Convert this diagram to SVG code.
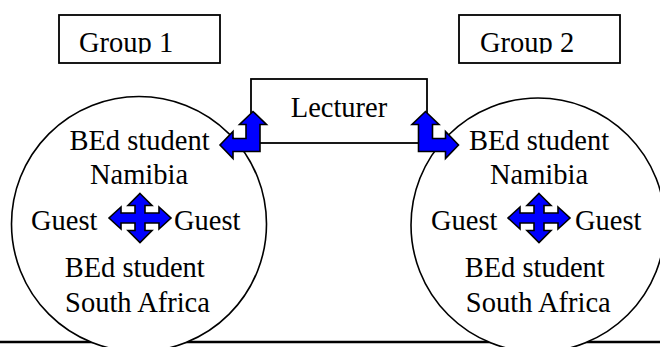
<svg xmlns="http://www.w3.org/2000/svg" width="660" height="347" viewBox="0 0 660 347">
  <style>
    .box { fill: #ffffff; stroke: #000000; stroke-width: 1.8; }
    .circ { fill: #ffffff; stroke: #000000; stroke-width: 1.6; }
    .txt { font-family: "Liberation Serif", "Times New Roman", serif; font-size: 28.5px; fill: #000000; }
    .mid { text-anchor: middle; }
    .arrow { fill: #0000ff; stroke: #000000; stroke-width: 1.6; stroke-linejoin: miter; }
    .line { stroke: #000000; stroke-width: 2.5; fill: none; }
  </style>
  <defs>
    <clipPath id="clipTop">
      <rect x="0" y="0" width="660" height="53.5"/>
    </clipPath>
    <path id="quad" d="M0,-24.5 L12,-12.5 L5,-12.5 L5,-5 L19,-5 L19,-11 L31,0 L19,11 L19,5 L5,5 L5,12.5 L12,12.5 L0,24.5 L-12,12.5 L-5,12.5 L-5,5 L-19,5 L-19,11 L-31,0 L-19,-11 L-19,-5 L-5,-5 L-5,-12.5 L-12,-12.5 Z"/>
  </defs>

  <line class="line" x1="0" y1="342" x2="660" y2="342"/>

  <g id="group1">
    <rect class="box" x="59" y="15" width="161" height="48"/>
    <text class="txt" x="79" y="52" clip-path="url(#clipTop)">Group 1</text>
  </g>

  <g id="group2">
    <rect class="box" x="459" y="15" width="161" height="48"/>
    <text class="txt" x="480" y="52" clip-path="url(#clipTop)">Group 2</text>
  </g>

  <g id="lecturer">
    <rect class="box" x="251" y="79" width="176" height="64"/>
    <text class="txt mid" x="339" y="117">Lecturer</text>
  </g>

  <g id="circle1">
    <circle class="circ" cx="139" cy="224" r="127.5"/>
    <text class="txt mid" x="139.5" y="150">BEd student</text>
    <text class="txt mid" x="139" y="183.5">Namibia</text>
    <text class="txt" x="31" y="229.5">Guest</text>
    <text class="txt" x="174" y="229.5">Guest</text>
    <text class="txt mid" x="134.7" y="277">BEd student</text>
    <text class="txt mid" x="137.5" y="312">South Africa</text>
    <use href="#quad" class="arrow" transform="translate(140,218)"/>
  </g>

  <g id="circle2">
    <circle class="circ" cx="538" cy="225" r="127"/>
    <text class="txt mid" x="539" y="150">BEd student</text>
    <text class="txt mid" x="539" y="183.5">Namibia</text>
    <text class="txt" x="431" y="229.5">Guest</text>
    <text class="txt" x="575" y="229.5">Guest</text>
    <text class="txt mid" x="534.7" y="277">BEd student</text>
    <text class="txt mid" x="538.3" y="312">South Africa</text>
    <use href="#quad" class="arrow" transform="translate(539,218)"/>
  </g>

  <g id="connectors">
    <path class="arrow" d="M253,111.5 L266.5,124.5 L260,124.5 L260,151.5 L233,151.5 L233,158.5 L220,145 L233,131.5 L233,138.5 L246,138.5 L246,124.5 L239.5,124.5 Z"/>
    <path class="arrow" d="M425.5,111.5 L412,124.5 L418.5,124.5 L418.5,151.5 L445.5,151.5 L445.5,158.5 L458.5,145 L445.5,131.5 L445.5,138.5 L432.5,138.5 L432.5,124.5 L439,124.5 Z"/>
  </g>
</svg>
